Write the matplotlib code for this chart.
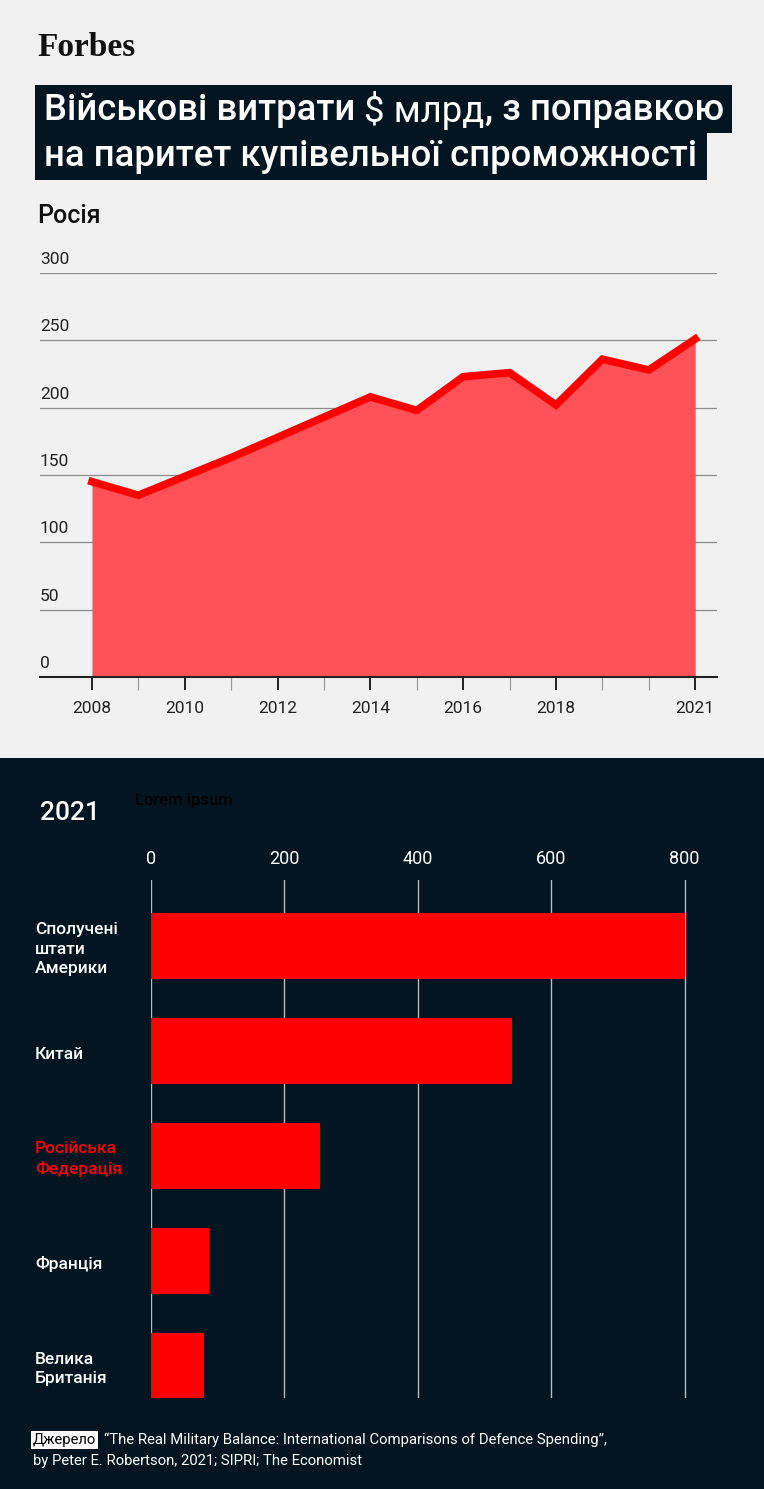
import matplotlib
matplotlib.use("Agg")
import matplotlib.pyplot as plt
from matplotlib.patches import Rectangle
import matplotlib.transforms as mtransforms

# data
years = [2008, 2009, 2010, 2011, 2012, 2013, 2014, 2015, 2016, 2017, 2018, 2019, 2020, 2021]
russia_spend = [145, 135, 149, 163, 178, 193, 208, 198, 223, 226, 202, 236, 228, 251]
year_labels = [2008, 2010, 2012, 2014, 2016, 2018, 2021]
y_ticks = [0, 50, 100, 150, 200, 250, 300]

countries = ["Сполучені\nштати\nАмерики", "Китай", "Російська\nФедерація", "Франція", "Велика\nБританія"]
spend_2021 = [801, 541, 254, 87, 79]
x_ticks = [0, 200, 400, 600, 800]

W, H = 764, 1489
LIGHT = "#f0f1f0"
DARK = "#021520"
RED = "#ff0000"
FILL = "#ff5258"
FONT = "Roboto"

fig = plt.figure(figsize=(W / 100, H / 100), dpi=100)
fig.patch.set_facecolor(LIGHT)


def fx(x):
    return x / W


def fy(y):
    return 1 - y / H


def box(l, t, r, b):
    return [fx(l), fy(b), fx(r) - fx(l), fy(t) - fy(b)]


# dark lower half
fig.patches.append(Rectangle((0, 0), 1, fy(758), transform=fig.transFigure,
                             facecolor=DARK, edgecolor="none", zorder=-5))

# logo and title
fig.text(fx(37), fy(48), "Forbes", family="Liberation Serif", weight="bold",
         fontsize=24, color="#111111", va="center", ha="left")
fig.patches.append(Rectangle((fx(35), fy(133)), fx(732) - fx(35), fy(85) - fy(133),
                             transform=fig.transFigure, facecolor=DARK, edgecolor="none", zorder=1))
fig.patches.append(Rectangle((fx(35), fy(180)), fx(707) - fx(35), fy(133) - fy(180),
                             transform=fig.transFigure, facecolor=DARK, edgecolor="none", zorder=1))

renderer = fig.canvas.get_renderer()
x0 = fx(44)
parts = [("Військові витрати ", "medium"), ("$ млрд", "normal"), (", з поправкою", "medium")]
for txt, wt in parts:
    t = fig.text(x0, fy(110), txt, family=FONT, weight=wt, fontsize=26.3,
                 color="white", va="center", ha="left", zorder=2)
    bb = t.get_window_extent(renderer)
    x0 += bb.width / W
fig.text(fx(44), fy(157), "на паритет купівельної спроможності", family=FONT, weight="medium",
         fontsize=26.3, color="white", va="center", ha="left", zorder=2)

fig.text(fx(37), fy(216), "Росія", family=FONT, weight="medium", fontsize=18,
         color="#111111", va="center", ha="left")

# line chart
ax = fig.add_axes(box(40, 273, 717, 677))
ax.set_facecolor("none")
ax.set_xlim(2006.88, 2021.47)
ax.set_ylim(0, 300)
ax.fill_between(years, russia_spend, 0, color=FILL, lw=0, zorder=2)
ax.plot(years, russia_spend, color=RED, lw=5.5, solid_joinstyle="miter", zorder=3)
for v in y_ticks[1:]:
    ax.axhline(v, color="#8a8c8c", lw=0.9, zorder=1)
lab_trans = mtransforms.blended_transform_factory(ax.transAxes, ax.transData) + \
    mtransforms.ScaledTranslation(0, 6 / 100, fig.dpi_scale_trans)
for v in y_ticks:
    ax.text(0.0, v, str(v), transform=lab_trans, family=FONT, fontsize=12.5, color="#222222",
            ha="left", va="bottom")
for s in ["left", "right", "top"]:
    ax.spines[s].set_visible(False)
ax.spines["bottom"].set_color("#222222")
ax.spines["bottom"].set_linewidth(1.5)
ax.spines["bottom"].set_zorder(4)
ax.set_yticks([])
ax.set_xticks(year_labels)
ax.set_xticklabels([str(y) for y in year_labels], family=FONT, fontsize=12.5, color="#222222")
ax.set_xticks(years, minor=True)
ax.tick_params(axis="x", which="major", length=9, width=1.4, color="#222222", pad=8)
ax.tick_params(axis="x", which="minor", length=9, width=0.9, color="#9a9a9a")

# bar chart
fig.text(fx(40), fy(813), "2021", family=FONT, weight="medium", fontsize=19,
         color="white", va="center", ha="left")
fig.text(fx(135), fy(801), "Lorem ipsum", family=FONT, weight="medium", fontsize=12,
         color="#000000", va="center", ha="left")

bx = fig.add_axes(box(151, 880, 698, 1398))
bx.set_facecolor("none")
bx.set_xlim(0, 820)
pos = list(range(len(countries)))
bx.set_ylim(4.305, -0.629)
for v in x_ticks:
    bx.axvline(v, color="#b8bcbf", lw=1.0, zorder=1)
bx.barh(pos, spend_2021, height=0.62, color=RED, zorder=2)
for s in bx.spines.values():
    s.set_visible(False)
bx.set_yticks([])
bx.xaxis.tick_top()
bx.set_xticks(x_ticks)
bx.set_xticklabels([str(v) for v in x_ticks], family=FONT, fontsize=13, color="white")
bx.tick_params(axis="x", length=0, pad=9)

ytrans = mtransforms.blended_transform_factory(fig.transFigure, bx.transData) + \
    mtransforms.ScaledTranslation(0, -3 / 100, fig.dpi_scale_trans)
for i, name in enumerate(countries):
    col = RED if i == 2 else "white"
    fig.text(fx(35), i, name, transform=ytrans, family=FONT, weight="medium", fontsize=12.5,
             color=col, va="center", ha="left", linespacing=1.4)

# source
fig.text(fx(33), fy(1440), "Джерело", family=FONT, fontsize=10.7, color="black",
         va="center", ha="left",
         bbox=dict(facecolor="white", edgecolor="none", boxstyle="square,pad=0.12"))
fig.text(fx(104), fy(1440),
         "\u201cThe Real Military Balance: International Comparisons of Defence Spending\u201d,",
         family=FONT, fontsize=10.7, color="white", va="center", ha="left")
fig.text(fx(33), fy(1461), "by Peter E. Robertson, 2021; SIPRI; The Economist",
         family=FONT, fontsize=10.7, color="white", va="center", ha="left")

fig.savefig("out.png", dpi=100, facecolor=fig.get_facecolor())
